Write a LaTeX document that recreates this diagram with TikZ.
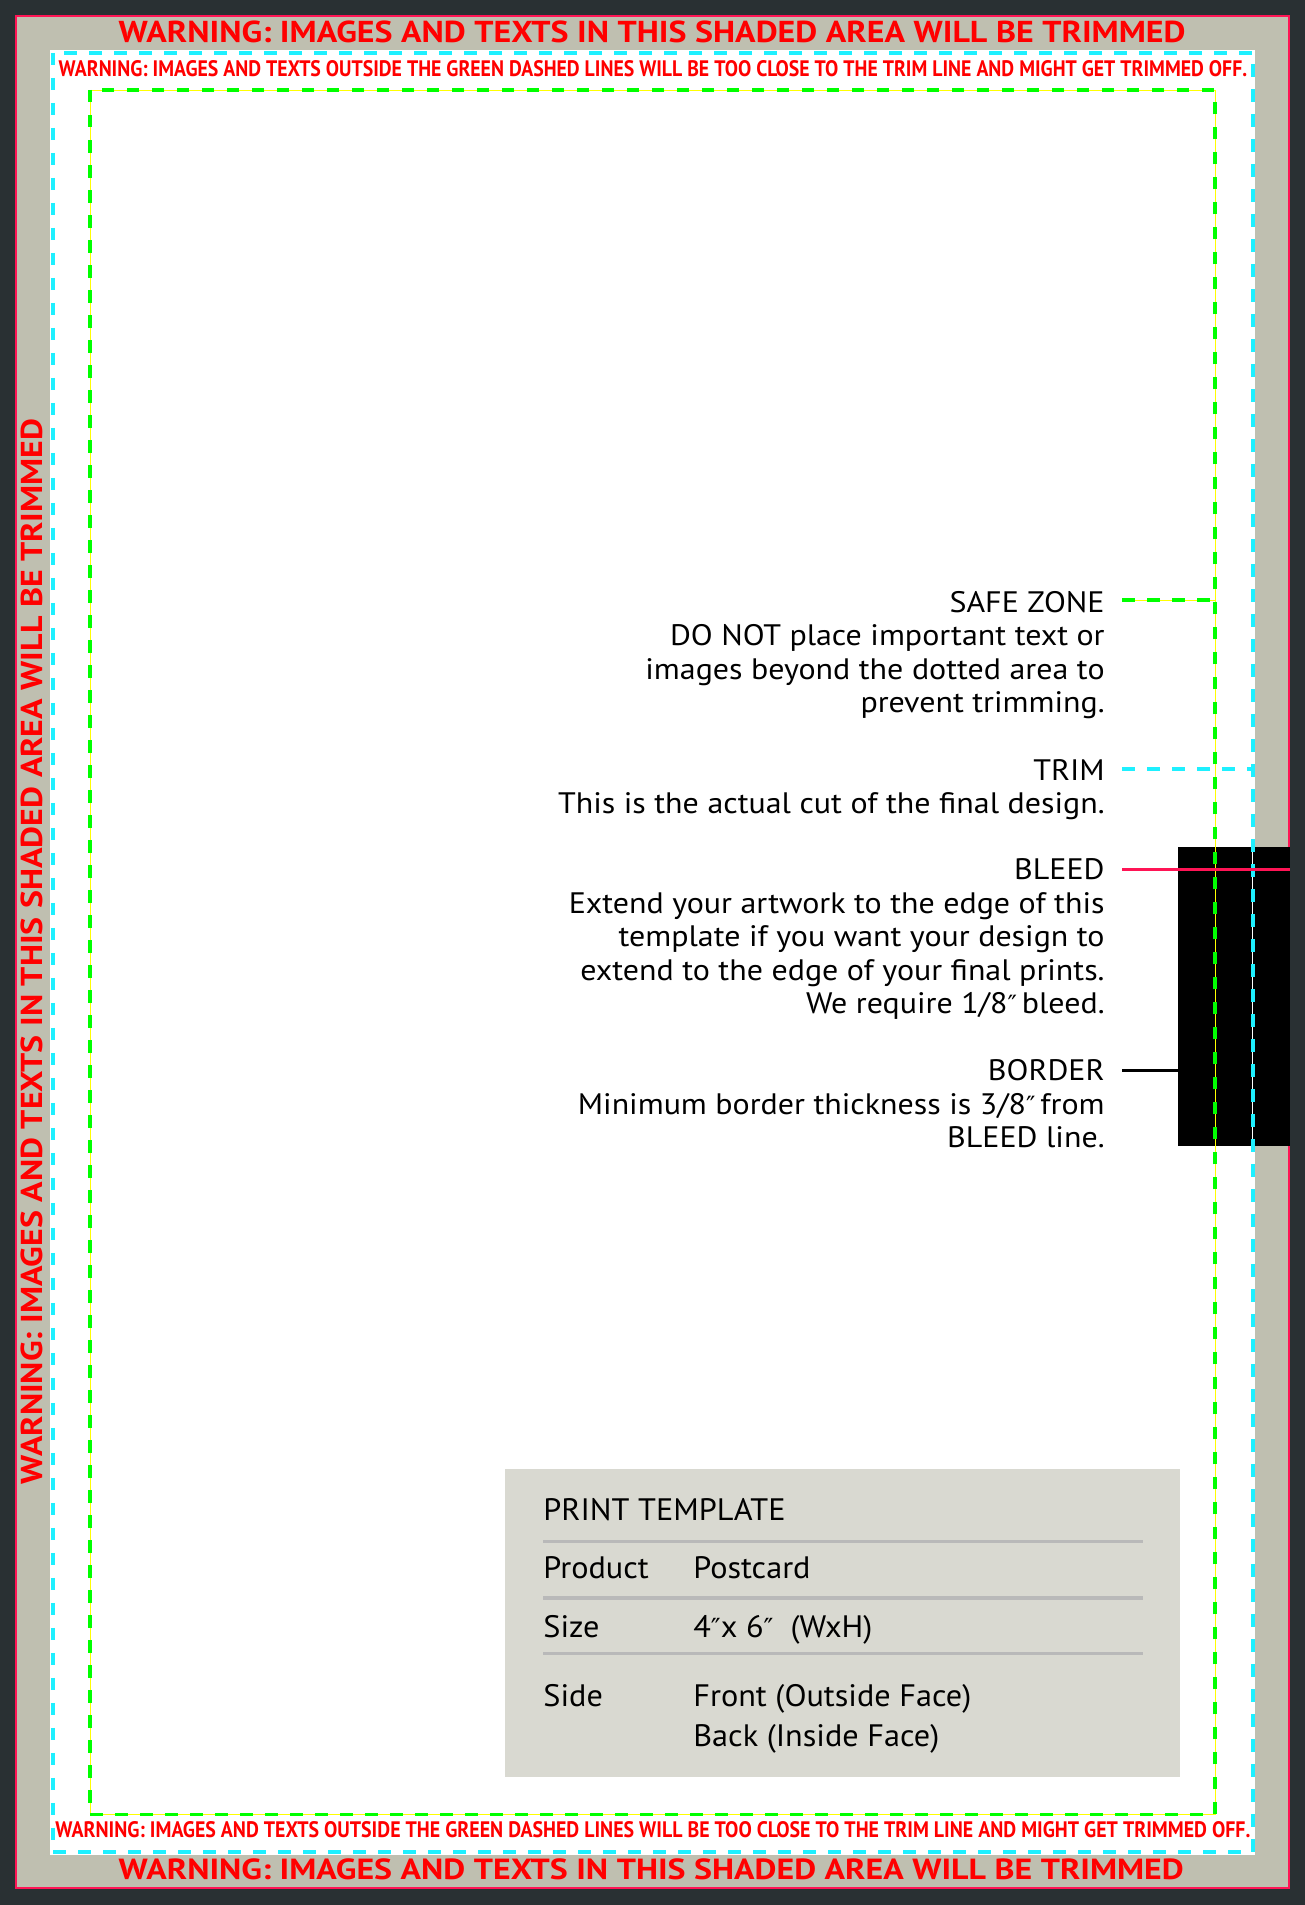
\documentclass[tikz,border=0pt]{standalone}
\usepackage{fontspec}
\setmainfont{PT Sans}
\newfontfamily\bodyfont{PT Sans}[FakeStretch=1.08]
\newfontfamily\tblfont{PT Sans}[FakeStretch=1.04]
\newfontfamily\symfont{DejaVu Sans}
\newcommand{\inch}{{\symfont\fontsize{0.85em}{1em}\selectfont ″}}
\usepackage{graphicx}
\definecolor{bgdark}{HTML}{293033}
\definecolor{pinkb}{HTML}{FF1455}
\definecolor{shade}{HTML}{BFBFB0}
\definecolor{tblfill}{HTML}{D9D9D1}
\definecolor{tblline}{HTML}{B9B9B9}
\definecolor{warnred}{HTML}{FF0000}
\definecolor{trimcyan}{HTML}{1EF0FF}
\definecolor{safegreen}{HTML}{00FF00}
\definecolor{safeyellow}{HTML}{FFFF00}
\tikzset{
  safeline/.style={draw=safegreen, line width=1.65pt, dash pattern=on 6.25pt off 6.25pt, preaction={draw=safeyellow, solid}},
  trimline/.style={draw=trimcyan, line width=2pt, dash pattern=on 6.25pt off 6.25pt, preaction={draw=white, solid}},
  warn/.style={inner sep=0pt, text=warnred, font=\bfseries, anchor=south west},
  bodytext/.style={inner sep=0pt, anchor=base east, font=\bodyfont\fontsize{14.8pt}{16.75pt}\selectfont},
  tbltext/.style={inner sep=0pt, anchor=base west, font=\tblfont\fontsize{15.5pt}{18pt}\selectfont},
  tblrule/.style={draw=tblline, line width=1.65pt},
}
\newcommand{\blk}[1]{\begin{tabular}[t]{@{}r@{}}#1\end{tabular}}
\begin{document}
\begin{tikzpicture}[x=0.5pt,y=-0.5pt]
\useasboundingbox (0,0) rectangle (1305,1905);
\fill[bgdark] (0,0) rectangle (1305,1905);
\draw[pinkb, line width=1pt, fill=shade] (16,16) rectangle (1289,1888.3);
\fill[white] (50,50) rectangle (1255,1855);
% black border sample
\fill[black] (1178,846.7) rectangle (1290,1146);
% connectors
\coordinate (sz1) at (1122,600);
\coordinate (sz2) at (1215,600);
\coordinate (tr1) at (1122,769);
\coordinate (tr2) at (1252.8,769);
\coordinate (bl1) at (1122,869.3);
\coordinate (bl2) at (1290,869.3);
\coordinate (bo1) at (1122,1070.7);
\coordinate (bo2) at (1178,1070.7);
\draw[trimline] (tr1) -- (tr2);
\draw[safeline] (sz1) -- (sz2);
% trim and safe lines
\draw[trimline] (52.8,52.8) rectangle (1252.8,1852.3);
\draw[safeline] (90,90) rectangle (1215,1814.7);
\draw[pinkb, line width=1.65pt] (bl1) -- (bl2);
\draw[black, line width=1.65pt] (bo1) -- (bo2);
% warnings
\node[warn] (wtop) at (118.3,43.3) {\resizebox{533.4pt}{10.8pt}{WARNING: IMAGES AND TEXTS IN THIS SHADED AREA WILL BE TRIMMED}};
\node[warn] (wtops) at (58.3,77) {\resizebox{594.2pt}{8pt}{WARNING: IMAGES AND TEXTS OUTSIDE THE GREEN DASHED LINES WILL BE TOO CLOSE TO THE TRIM LINE AND MIGHT GET TRIMMED OFF.}};
\node[warn] (wbots) at (55,1838.5) {\resizebox{597.5pt}{8pt}{WARNING: IMAGES AND TEXTS OUTSIDE THE GREEN DASHED LINES WILL BE TOO CLOSE TO THE TRIM LINE AND MIGHT GET TRIMMED OFF.}};
\node[warn] (wbot) at (118.3,1880.5) {\resizebox{532.5pt}{10.4pt}{WARNING: IMAGES AND TEXTS IN THIS SHADED AREA WILL BE TRIMMED}};
\node[warn, rotate=90] (wleft) at (43.3,1485) {\resizebox{533pt}{10.8pt}{WARNING: IMAGES AND TEXTS IN THIS SHADED AREA WILL BE TRIMMED}};
% explanations
\node[bodytext] (safe) at (1105,612.3) {\blk{SAFE ZONE\hspace{1.5pt}\\ DO NOT place important text or\hspace{4pt}\\ images beyond the dotted area to\hspace{4pt}\\ prevent trimming.}};
\node[bodytext] (trim) at (1105,780) {\blk{TRIM\hspace{1.5pt}\\ This is the actual cut of the final design.}};
\node[bodytext] (bleed) at (1105,879.5) {\blk{BLEED\hspace{1.5pt}\\ Extend your artwork to the edge of this\hspace{4pt}\\ template if you want your design to\hspace{4pt}\\ extend to the edge of your final prints.\hspace{3pt}\\ We require 1/8\inch\,bleed.}};
\node[bodytext] (border) at (1105,1080.5) {\blk{BORDER\hspace{1.5pt}\\ Minimum border thickness is 3/8\inch\,from\hspace{4pt}\\ BLEED line.}};
% table
\fill[tblfill] (505,1469) rectangle (1180,1777);
\draw[tblrule] (543,1541.5) -- (1143,1541.5);
\draw[tblrule] (543,1598) -- (1143,1598);
\draw[tblrule] (543,1653.5) -- (1143,1653.5);
\node[tbltext] (ptitle) at (543,1520) {PRINT TEMPLATE};
\node[tbltext] (prodk) at (543,1578) {Product};
\node[tbltext] (prodv) at (693,1578) {Postcard};
\node[tbltext] (sizek) at (543,1637) {Size};
\node[tbltext] (sizev) at (693,1637) {4\inch x 6\inch\ \ (WxH)};
\node[tbltext] (sidek) at (543,1706) {Side};
\node[tbltext] (sidev1) at (693,1706) {Front (Outside Face)};
\node[tbltext] (sidev2) at (693,1746) {Back (Inside Face)};
\end{tikzpicture}
\end{document}
